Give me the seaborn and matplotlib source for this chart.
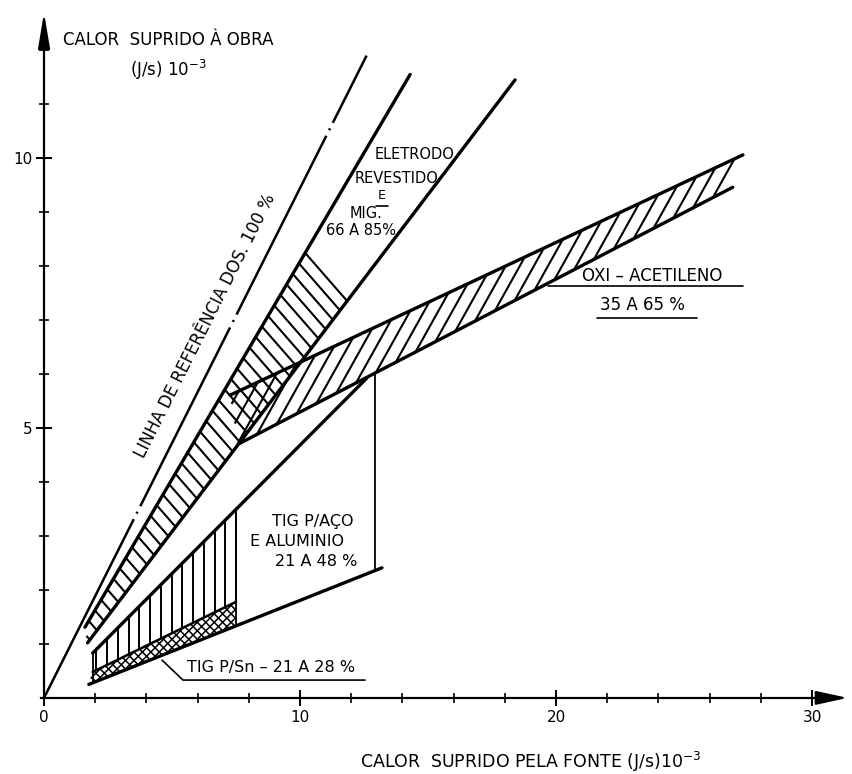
import matplotlib
matplotlib.use('Agg')
import matplotlib.pyplot as plt
import seaborn as sns
import numpy as np

# Linhas (eixo x e y em (J/s)·10^-3)
REF_X = [0.0, 12.6]
REF_Y = [0.0, 11.9]

ELET_SUP_X = [1.6, 14.3]
ELET_SUP_Y = [1.31, 11.55]
ELET_INF_X = [1.7, 18.4]
ELET_INF_Y = [1.02, 11.45]
ELET_HACH_FIM = [10.2, 11.84]   # fim da hachura: x na linha sup., x na linha inf.

OXI_SUP_X = [7.27, 27.3]
OXI_SUP_Y = [5.61, 10.06]
OXI_INF_X = [7.58, 26.9]
OXI_INF_Y = [4.70, 9.46]

TIG_SUP_X = [1.9, 12.6]
TIG_SUP_Y = [0.83, 5.92]
TIG_INF_X = [1.75, 13.2]
TIG_INF_Y = [0.25, 2.41]
SN_SUP_X = [1.9, 7.5]
SN_SUP_Y = [0.48, 1.78]
TIG_HACH_FIM = 7.5
TIG_VERTICAL = 12.93

X_MAJOR = [0, 10, 20, 30]
X_MINOR = list(range(2, 30, 2))
Y_MAJOR = [5, 10]
Y_MINOR = list(range(1, 13))

# sublinhados e chamadas dos rótulos
SUB_OXI_X = [19.7, 27.3]; SUB_OXI_Y = [7.63, 7.63]
SUB_OXI2_X = [21.6, 25.5]; SUB_OXI2_Y = [7.04, 7.04]
SUB_SN_X = [4.61, 5.43, 12.54]; SUB_SN_Y = [0.70, 0.33, 0.33]
SUB_E_X = [12.95, 13.45]; SUB_E_Y = [9.12, 9.12]


def reta(xa, ya, x):
    x = np.asarray(x, dtype=float)
    return ya[0] + (ya[1] - ya[0]) / (xa[1] - xa[0]) * (x - xa[0])


def hachura(ax, px, py, k, passo, ancora=None, lw=1.4):
    # linhas x - k*y = c recortadas pelo polígono convexo (px, py)
    px = np.asarray(px, float); py = np.asarray(py, float)
    cv = px - k * py
    c0 = cv.max() if ancora is None else ancora
    cs = np.arange(c0, cv.min() - 1e-9, -passo)
    segx, segy = [], []
    n = len(px)
    for c in cs:
        pts = []
        for i in range(n):
            fa, fb = cv[i] - c, cv[(i + 1) % n] - c
            if fa == fb or fa * fb > 0:
                continue
            t = fa / (fa - fb)
            pts.append((px[i] + t * (px[(i + 1) % n] - px[i]),
                        py[i] + t * (py[(i + 1) % n] - py[i])))
        if len(pts) >= 2:
            pts = sorted(pts, key=lambda p: p[1])
            segx += [pts[0][0], pts[-1][0], np.nan]
            segy += [pts[0][1], pts[-1][1], np.nan]
    ax.plot(segx, segy, color='black', lw=lw, solid_capstyle='butt')


sns.set_theme(style='white')
plt.rcParams['font.family'] = ['DejaVu Sans']
plt.rcParams['text.color'] = 'black'

fig = plt.figure(figsize=(8.53, 7.74), dpi=100)
ax = fig.add_axes([0, 0, 1, 1])
ax.set_xlim(-1.72, 31.6)
ax.set_ylim(-1.41, 12.93)
ax.set_facecolor('white')

# hachura eletrodo revestido / MIG
ex = [ELET_SUP_X[0], ELET_HACH_FIM[0], ELET_HACH_FIM[1], ELET_INF_X[0]]
ey = [ELET_SUP_Y[0], reta(ELET_SUP_X, ELET_SUP_Y, ELET_HACH_FIM[0]),
      reta(ELET_INF_X, ELET_INF_Y, ELET_HACH_FIM[1]), ELET_INF_Y[0]]
k_el = (ex[2] - ex[1]) / (ey[2] - ey[1])
hachura(ax, ex, ey, k_el, 0.6, ancora=ex[1] - k_el * ey[1], lw=1.5)

# hachura oxi-acetileno
ox = [OXI_SUP_X[0], OXI_SUP_X[1], OXI_INF_X[1], OXI_INF_X[0]]
oy = [OXI_SUP_Y[0], OXI_SUP_Y[1], OXI_INF_Y[1], OXI_INF_Y[0]]
hachura(ax, ox, oy, 1 / 0.85, 0.55, lw=1.5)

# hachura vertical TIG aço/alumínio
tx = [TIG_SUP_X[0], TIG_SUP_X[0], TIG_HACH_FIM, TIG_HACH_FIM]
ty = [reta(SN_SUP_X, SN_SUP_Y, TIG_SUP_X[0]), TIG_SUP_Y[0],
      reta(TIG_SUP_X, TIG_SUP_Y, TIG_HACH_FIM), reta(SN_SUP_X, SN_SUP_Y, TIG_HACH_FIM)]
hachura(ax, tx, ty, 0.0, 0.42, ancora=TIG_HACH_FIM, lw=1.4)

# hachura cruzada TIG Sn
sx = [TIG_INF_X[0], SN_SUP_X[0], TIG_HACH_FIM, TIG_HACH_FIM]
sy = [TIG_INF_Y[0], SN_SUP_Y[0], reta(SN_SUP_X, SN_SUP_Y, TIG_HACH_FIM),
      reta(TIG_INF_X, TIG_INF_Y, TIG_HACH_FIM)]
hachura(ax, sx, sy, 2.1, 0.33, lw=1.1)
hachura(ax, sx, sy, -2.1, 0.33, lw=1.1)

# linhas principais
for lx, ly, lw in [(ELET_SUP_X, ELET_SUP_Y, 2.4), (ELET_INF_X, ELET_INF_Y, 2.4),
                   (OXI_SUP_X, OXI_SUP_Y, 2.4), (OXI_INF_X, OXI_INF_Y, 2.4),
                   (TIG_SUP_X, TIG_SUP_Y, 2.4), (TIG_INF_X, TIG_INF_Y, 2.4),
                   (SN_SUP_X, SN_SUP_Y, 1.8)]:
    sns.lineplot(x=lx, y=ly, ax=ax, color='black', lw=lw, estimator=None)

ax.plot(REF_X, REF_Y, color='black', lw=1.8, dashes=(80, 2.5, 0.8, 2.5))

ax.vlines(TIG_HACH_FIM, reta(TIG_INF_X, TIG_INF_Y, TIG_HACH_FIM),
          reta(TIG_SUP_X, TIG_SUP_Y, TIG_HACH_FIM), color='black', lw=1.3)
ax.vlines(TIG_VERTICAL, reta(TIG_INF_X, TIG_INF_Y, TIG_VERTICAL),
          reta(OXI_INF_X, OXI_INF_Y, TIG_VERTICAL), color='black', lw=1.3)
ax.vlines(TIG_SUP_X[0], reta(TIG_INF_X, TIG_INF_Y, TIG_SUP_X[0]), TIG_SUP_Y[0],
          color='black', lw=1.3)

# eixos
for s in ['top', 'right']:
    ax.spines[s].set_visible(False)
ax.spines['left'].set_position(('data', 0))
ax.spines['bottom'].set_position(('data', 0))
ax.spines['left'].set_bounds(0, 12.3)
ax.spines['bottom'].set_bounds(-0.1, 30.3)
for s in ['left', 'bottom']:
    ax.spines[s].set_color('black')
    ax.spines[s].set_linewidth(1.6)
ax.set_xticks(X_MAJOR)
ax.set_xticks(X_MINOR, minor=True)
ax.set_yticks(Y_MAJOR)
ax.set_yticks([v for v in Y_MINOR if v not in Y_MAJOR], minor=True)
ax.set_xticklabels([str(v) for v in X_MAJOR])
ax.set_yticklabels([str(v) for v in Y_MAJOR])
ax.tick_params(which='major', direction='inout', length=11, width=1.4, color='black',
               labelsize=11, labelcolor='black', bottom=True, left=True, pad=3)
ax.tick_params(which='minor', direction='inout', length=7, width=1.2, color='black',
               bottom=True, left=True)

ax.annotate('', xy=(31.5, 0), xytext=(30.0, 0),
            arrowprops=dict(arrowstyle='-|>,head_length=1.6,head_width=0.35',
                            color='black', lw=1.6))
ax.annotate('', xy=(0, 12.75), xytext=(0, 12.0),
            arrowprops=dict(arrowstyle='-|>,head_length=1.8,head_width=0.3',
                            color='black', lw=1.6))

# títulos dos eixos
ax.text(0.74, 12.19, 'CALOR  SUPRIDO À OBRA', fontsize=12, ha='left', va='center')
ax.text(3.36, 11.63, '(J/s) 10$^{-3}$', fontsize=12, ha='left', va='center')
ax.text(12.34, -1.19, 'CALOR  SUPRIDO PELA FONTE (J/s)10$^{-3}$', fontsize=12.5,
        ha='left', va='center')

# rótulos
p = ax.transData.transform(np.c_[REF_X, REF_Y])
ang = np.degrees(np.arctan2(p[1, 1] - p[0, 1], p[1, 0] - p[0, 0]))
ax.text(6.3, 6.9, 'LINHA DE REFERÊNCIA DOS. 100 %', fontsize=12, rotation=ang,
        rotation_mode='anchor', ha='center', va='center')

fe = 10.5
ax.text(12.93, 10.06, 'ELETRODO', fontsize=fe, ha='left', va='center')
ax.text(12.15, 9.63, 'REVESTIDO', fontsize=fe, ha='left', va='center')
ax.text(13.2, 9.30, 'E', fontsize=9, ha='center', va='center')
ax.text(11.95, 8.98, 'MIG.', fontsize=fe, ha='left', va='center')
ax.text(11.0, 8.66, '66 A 85%', fontsize=fe, ha='left', va='center')

ax.text(21.0, 7.82, 'OXI – ACETILENO', fontsize=12, ha='left', va='center')
ax.text(21.7, 7.28, '35 A 65 %', fontsize=12, ha='left', va='center')

fl = 11.5
ax.text(8.9, 3.26, 'TIG P/AÇO', fontsize=fl, ha='left', va='center')
ax.text(8.05, 2.89, 'E ALUMINIO', fontsize=fl, ha='left', va='center')
ax.text(9.02, 2.52, '21 A 48 %', fontsize=fl, ha='left', va='center')

ax.text(5.6, 0.57, 'TIG P/Sn – 21 A 28 %', fontsize=fl, ha='left', va='center')

for lx, ly in [(SUB_OXI_X, SUB_OXI_Y), (SUB_OXI2_X, SUB_OXI2_Y),
               (SUB_SN_X, SUB_SN_Y), (SUB_E_X, SUB_E_Y)]:
    ax.plot(lx, ly, color='black', lw=1.2)

fig.savefig('out.png', dpi=100, facecolor='white')
